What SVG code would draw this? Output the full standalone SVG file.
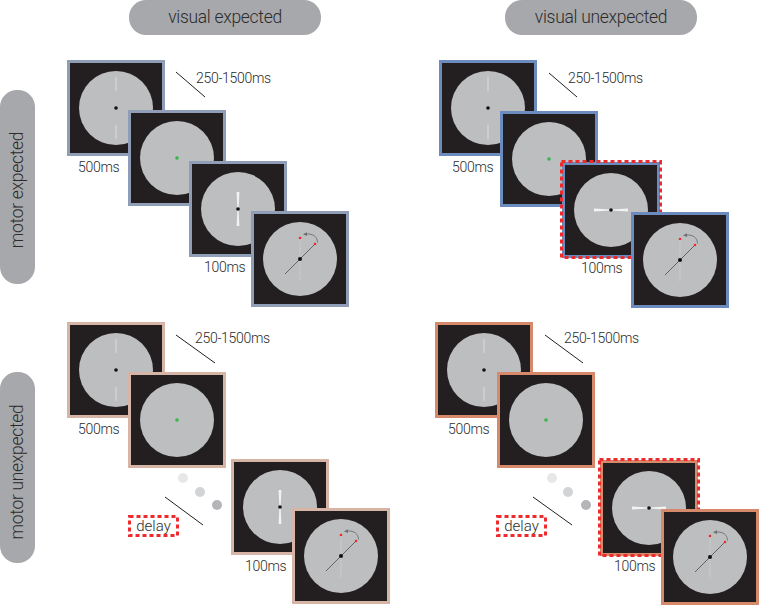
<svg xmlns="http://www.w3.org/2000/svg" width="759" height="606" viewBox="0 0 759 606">
<style>
.lbl{font-family:Roboto,"Liberation Sans",sans-serif;font-weight:300;fill:#2b2b2b}
.t{font-size:14px;letter-spacing:-0.3px}
.h{font-size:17.5px;letter-spacing:-0.3px;text-anchor:middle}
.d{font-size:15px;text-anchor:middle}
.pill{fill:#a7a8ab}
.frame{fill:#231f20;stroke-width:3}
.tl{stroke:#8f9db6}
.tr{stroke:#6c8bbf}
.bl{stroke:#d6b5a7}
.br{stroke:#d6896b}
.red{fill:none;stroke:#ee2a2d;stroke-width:3;stroke-dasharray:4 3}
.conn line{stroke:#231f20;stroke-width:1}
</style>
<defs>
<g id="fix">
<circle cx="49" cy="48" r="37" fill="#bdbec0"/>
<line x1="49" y1="17" x2="49" y2="31" stroke="#dcdcdc" stroke-width="1"/>
<line x1="49" y1="65" x2="49" y2="79" stroke="#dcdcdc" stroke-width="1"/>
<circle cx="49" cy="48" r="1.8" fill="#111"/>
</g>
<g id="go">
<circle cx="49" cy="48" r="37" fill="#bdbec0"/>
<circle cx="49" cy="48" r="1.8" fill="#39b54a"/>
</g>
<g id="barv">
<circle cx="49" cy="48" r="37" fill="#bdbec0"/>
<polygon points="47.6,31 50.4,31 49.6,48 50.4,65 47.6,65 48.4,48" fill="#f2f2f2"/>
<circle cx="49" cy="48" r="1.8" fill="#111"/>
</g>
<g id="barh">
<circle cx="49" cy="48" r="37" fill="#bdbec0"/>
<polygon points="32,46.6 32,49.4 49,48.6 66,49.4 66,46.6 49,47.4" fill="#f2f2f2"/>
<circle cx="49" cy="48" r="1.8" fill="#111"/>
</g>
<g id="resp">
<circle cx="49" cy="48" r="37" fill="#bdbec0"/>
<line x1="49" y1="28" x2="49" y2="70" stroke="#e2e2e2" stroke-width="0.8" stroke-dasharray="1 1.2"/>
<line x1="34" y1="63" x2="64" y2="33" stroke="#58585a" stroke-width="0.9"/>
<path d="M66.5,31.5 C66.5,26 62,22.5 55.5,23" fill="none" stroke="#6d6e71" stroke-width="0.9"/>
<polygon points="52,23.2 56,21.3 56,25" fill="#6d6e71"/>
<circle cx="49" cy="27" r="1.3" fill="#ee2a2d"/>
<circle cx="64" cy="33" r="1.3" fill="#ee2a2d"/>
<circle cx="49" cy="48" r="2" fill="#111"/>
</g>
</defs>
<rect width="759" height="606" fill="#ffffff"/>

<g id="header-visual-expected">
<rect class="pill" x="129" y="0" width="192" height="35" rx="17"/>
<text class="lbl h" x="225" y="23">visual expected</text>
</g>
<g id="header-visual-unexpected">
<rect class="pill" x="505" y="0" width="192" height="35" rx="17"/>
<text class="lbl h" x="601" y="23">visual unexpected</text>
</g>
<g id="header-motor-expected">
<rect class="pill" x="0" y="90" width="35" height="194" rx="17"/>
<text class="lbl h" transform="translate(23,190) rotate(-90)">motor expected</text>
</g>
<g id="header-motor-unexpected">
<rect class="pill" x="0" y="372" width="35" height="191" rx="17"/>
<text class="lbl h" transform="translate(23,472) rotate(-90)">motor unexpected</text>
</g>

<g id="connectors" class="conn">
<line x1="176" y1="72" x2="205" y2="97"/>
<line x1="549" y1="73" x2="577" y2="97"/>
<line x1="176" y1="335" x2="215" y2="363"/>
<line x1="545" y1="335" x2="583" y2="363"/>
<line x1="165" y1="497" x2="203" y2="525"/>
<line x1="533" y1="497" x2="572" y2="525"/>
</g>

<g id="tl-fixation" transform="translate(67,60)"><rect class="frame tl" x="1.5" y="1.5" width="95" height="93"/><use href="#fix"/></g>
<g id="tl-go" transform="translate(128,110)"><rect class="frame tl" x="1.5" y="1.5" width="95" height="93"/><use href="#go"/></g>
<g id="tl-stim" transform="translate(189,161)"><rect class="frame tl" x="1.5" y="1.5" width="95" height="93"/><use href="#barv"/></g>
<g id="tl-resp" transform="translate(251,211)"><rect class="frame tl" x="1.5" y="1.5" width="95" height="93"/><use href="#resp"/></g>
<g id="tl-labels">
<text class="lbl t" x="196" y="83">250-1500ms</text>
<text class="lbl t" x="78" y="172">500ms</text>
<text class="lbl t" x="204" y="272">100ms</text>
</g>

<g id="tr-fixation" transform="translate(439,60)"><rect class="frame tr" x="1.5" y="1.5" width="95" height="93"/><use href="#fix"/></g>
<g id="tr-go" transform="translate(500,111)"><rect class="frame tr" x="1.5" y="1.5" width="95" height="93"/><use href="#go"/></g>
<g id="tr-stim" transform="translate(562,162)"><rect class="frame tr" x="1.5" y="1.5" width="95" height="93"/><use href="#barh"/><rect class="red" x="-0.5" y="-0.5" width="99" height="96"/></g>
<g id="tr-resp" transform="translate(631,212)"><rect class="frame tr" x="1.5" y="1.5" width="95" height="93"/><use href="#resp"/></g>
<g id="tr-labels">
<text class="lbl t" x="568" y="83">250-1500ms</text>
<text class="lbl t" x="452" y="172">500ms</text>
<text class="lbl t" x="581" y="273">100ms</text>
</g>

<g id="bl-fixation" transform="translate(67,322)"><rect class="frame bl" x="1.5" y="1.5" width="95" height="93"/><use href="#fix"/></g>
<g id="bl-go" transform="translate(128,372)"><rect class="frame bl" x="1.5" y="1.5" width="95" height="93"/><use href="#go"/></g>
<g id="bl-delay-dots">
<circle cx="183" cy="478" r="5" fill="#e6e7e8"/>
<circle cx="200" cy="492" r="5" fill="#d1d3d4"/>
<circle cx="217" cy="505" r="5" fill="#b4b5b8"/>
</g>
<g id="bl-delay"><rect class="red" x="129.5" y="516.5" width="48" height="19"/><text class="lbl d" x="153.5" y="531">delay</text></g>
<g id="bl-stim" transform="translate(231,459)"><rect class="frame bl" x="1.5" y="1.5" width="95" height="93"/><use href="#barv"/></g>
<g id="bl-resp" transform="translate(292,508)"><rect class="frame bl" x="1.5" y="1.5" width="95" height="93"/><use href="#resp"/></g>
<g id="bl-labels">
<text class="lbl t" x="195" y="343">250-1500ms</text>
<text class="lbl t" x="78" y="434">500ms</text>
<text class="lbl t" x="245" y="571">100ms</text>
</g>

<g id="br-fixation" transform="translate(435,322)"><rect class="frame br" x="1.5" y="1.5" width="95" height="93"/><use href="#fix"/></g>
<g id="br-go" transform="translate(497,372)"><rect class="frame br" x="1.5" y="1.5" width="95" height="93"/><use href="#go"/></g>
<g id="br-delay-dots">
<circle cx="552" cy="478" r="5" fill="#e6e7e8"/>
<circle cx="568" cy="492" r="5" fill="#d1d3d4"/>
<circle cx="586" cy="505" r="5" fill="#b4b5b8"/>
</g>
<g id="br-delay"><rect class="red" x="497.5" y="516.5" width="48" height="19"/><text class="lbl d" x="521.5" y="531">delay</text></g>
<g id="br-stim" transform="translate(600,460)"><rect class="frame br" x="1.5" y="1.5" width="95" height="93"/><use href="#barh"/><rect class="red" x="-0.5" y="-0.5" width="99" height="96"/></g>
<g id="br-resp" transform="translate(661,509)"><rect class="frame br" x="1.5" y="1.5" width="95" height="93"/><use href="#resp"/></g>
<g id="br-labels">
<text class="lbl t" x="564" y="343">250-1500ms</text>
<text class="lbl t" x="448" y="434">500ms</text>
<text class="lbl t" x="614" y="571">100ms</text>
</g>
</svg>
